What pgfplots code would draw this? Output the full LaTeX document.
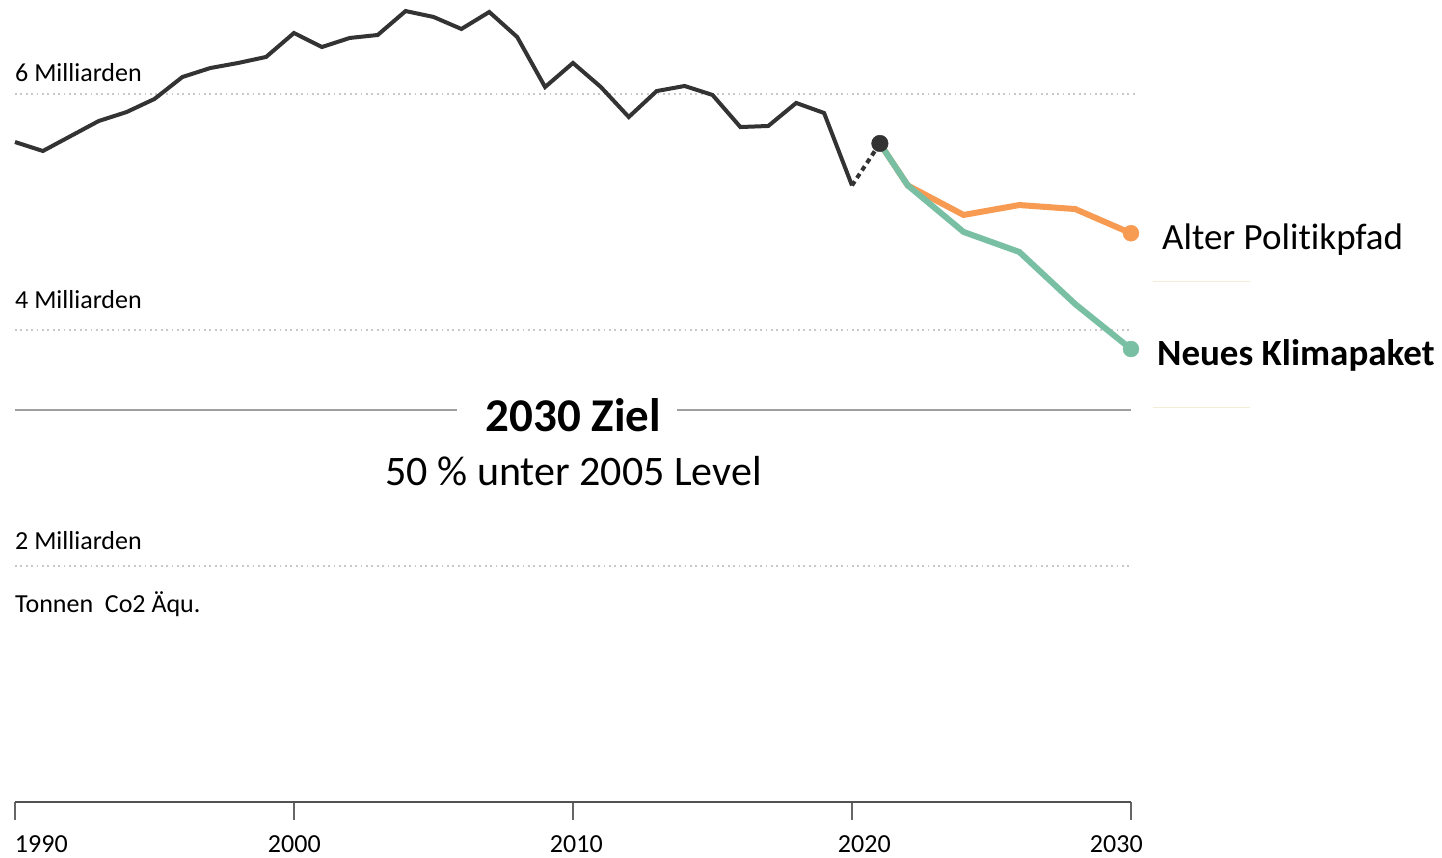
\documentclass[border=0pt]{standalone}
\usepackage{fontspec}
\setmainfont{Carlito}[Ligatures={NoCommon,NoRare,NoContextual}]
\usepackage{pgfplots}
\pgfplotsset{compat=1.18}
\definecolor{dark}{HTML}{333333}
\definecolor{orng}{HTML}{F79A52}
\definecolor{grn}{HTML}{79BFA4}
\definecolor{gridc}{HTML}{C8C8C8}
\definecolor{faint}{HTML}{F3ECD8}
\newcommand{\fs}[1]{\fontsize{#1}{#1}\selectfont}
\begin{document}
\begin{tikzpicture}
\begin{axis}[
  at={(0,0)}, anchor=south west,
  scale only axis, width=1116pt, height=802.4pt,
  xmin=1990, xmax=2030, ymin=0, ymax=6.8,
  clip=false,
  axis x line*=bottom, axis y line=none,
  x axis line style={line width=2.5pt, color=dark!85},
  xtick={1990,2000,2010,2020,2030},
  xticklabels={\makebox[0pt][l]{1990},\makebox[0pt][l]{\hspace{-26pt}2000},\makebox[0pt][l]{\hspace{-23pt}2010},\makebox[0pt][l]{\hspace{-14pt}2020},\makebox[0pt][l]{\hspace{-41pt}2030}},
  tick align=outside, major tick length=18pt,
  xtick style={line width=1.5pt, color=dark!75},
  xticklabel style={font=\fs{26}, anchor=north, text=black, yshift=-12pt},
  ytick=\empty,
]
% grid lines
\addplot[gridc, line width=1.8pt, dash pattern=on 1.8pt off 3.6pt] coordinates {(1990,6) (2030.15,6)};
\addplot[gridc, line width=1.8pt, dash pattern=on 1.8pt off 3.6pt] coordinates {(1990,4) (2030,4)};
\addplot[gridc, line width=1.8pt, dash pattern=on 1.8pt off 3.6pt] coordinates {(1990,2) (2030,2)};
% target line
\addplot[gray!75, line width=2pt] coordinates {(1990,3.322) (2005.84,3.322)};
\addplot[gray!75, line width=2pt] coordinates {(2013.73,3.322) (2030,3.322)};
% faint lines at right
\addplot[faint, line width=1pt] coordinates {(2030.79,4.415) (2034.27,4.415)};
\addplot[faint, line width=1pt] coordinates {(2030.79,3.347) (2034.27,3.347)};
% history
\addplot[dark, line width=4pt, line join=miter] coordinates {
(1990,5.593) (1991,5.517) (1992,5.644) (1993,5.771) (1994,5.847) (1995,5.958)
(1996,6.144) (1997,6.220) (1998,6.263) (1999,6.314) (2000,6.517) (2001,6.398)
(2002,6.475) (2003,6.500) (2004,6.703) (2005,6.653) (2006,6.551) (2007,6.695)
(2008,6.483) (2009,6.059) (2010,6.263) (2011,6.059) (2012,5.805) (2013,6.025)
(2014,6.068) (2015,5.992) (2016,5.720) (2017,5.729) (2018,5.924) (2019,5.839)
(2020,5.225)};
\addplot[dark, line width=4pt, dash pattern=on 5pt off 4pt] coordinates {(2020,5.225) (2021,5.581)};
% scenarios
\addplot[orng, line width=6pt] coordinates {(2021,5.581) (2022,5.225) (2024,4.975) (2026,5.059) (2028,5.025) (2030,4.820)};
\addplot[grn, line width=6pt] coordinates {(2021,5.581) (2022,5.225) (2024,4.831) (2026,4.661) (2028,4.220) (2030,3.839)};
\addplot[only marks, mark=*, mark size=8pt, orng] coordinates {(2030,4.820)};
\addplot[only marks, mark=*, mark size=8pt, grn] coordinates {(2030,3.839)};
\addplot[only marks, mark=*, mark size=8.3pt, dark] coordinates {(2021,5.581)};
% labels
\node[anchor=base west, inner sep=0pt, font=\fs{26}] at (axis cs:1990,6.102) {6 Milliarden};
\node[anchor=base west, inner sep=0pt, font=\fs{26}] at (axis cs:1990,4.178) {4 Milliarden};
\node[anchor=base west, inner sep=0pt, font=\fs{26}] at (axis cs:1990,2.136) {2 Milliarden};
\node[anchor=base west, inner sep=0pt, font=\fs{26}] at (axis cs:1990,1.602) {Tonnen\ \ Co2 Äqu.};
\node[anchor=base, inner sep=0pt, font=\fs{47}\bfseries] at (axis cs:2010.02,3.136) {2030 Ziel};
\node[anchor=base, inner sep=0pt, font=\fs{42}] at (axis cs:2010.02,2.678) {50 \% unter 2005 Level};
\node[anchor=base west, inner sep=0pt, font=\fs{37}] at (axis cs:2031.11,4.678) {Alter Politikpfad};
\node[anchor=base west, inner sep=0pt, font=\fs{37}\bfseries] at (axis cs:2030.93,3.695) {Neues Klimapaket};
\end{axis}
\pgfresetboundingbox
\path[use as bounding box] (-15pt,-55pt) rectangle (1427pt,802pt);
\end{tikzpicture}
\end{document}
